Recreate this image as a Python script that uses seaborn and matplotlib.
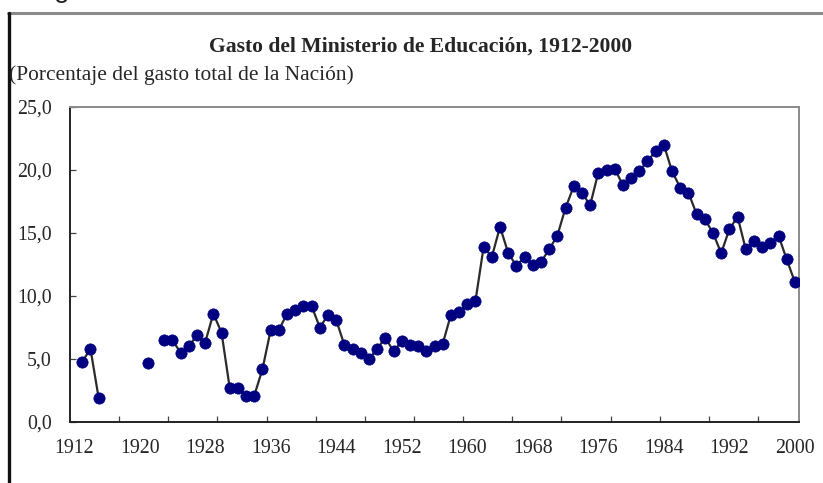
import matplotlib
matplotlib.use("Agg")
import numpy as np
import pandas as pd
import matplotlib.pyplot as plt
import seaborn as sns
from matplotlib.lines import Line2D
from matplotlib.ticker import FuncFormatter

# Gasto del Ministerio de Educación (% del gasto total)
years = [1913, 1914, 1915, 1921] + list(range(1923, 2001))
values = [
    4.8, 5.8, 1.9, 4.7,
    6.5, 6.5, 5.5, 6.0, 6.9, 6.3, 8.6, 7.1,          # 1923-1930
    2.7, 2.7, 2.1, 2.1, 4.2, 7.3, 7.3, 8.6, 8.9, 9.2,  # 1931-1940
    9.2, 7.5, 8.5, 8.1, 6.1, 5.8, 5.5, 5.0, 5.8, 6.7,  # 1941-1950
    5.6, 6.4, 6.1, 6.0, 5.6, 6.0, 6.2, 8.5, 8.7, 9.4,  # 1951-1960
    9.6, 13.9, 13.1, 15.5, 13.4, 12.4, 13.1, 12.5, 12.7, 13.7,  # 1961-1970
    14.8, 17.0, 18.7, 18.2, 17.2, 19.8, 20.0, 20.1, 18.8, 19.4,  # 1971-1980
    19.9, 20.7, 21.5, 22.0, 19.9, 18.6, 18.2, 16.5, 16.1, 15.0,  # 1981-1990
    13.4, 15.3, 16.3, 13.7, 14.4, 13.9, 14.2, 14.8, 12.9, 11.1,  # 1991-2000
]
label_years = [1912, 1920, 1928, 1936, 1944, 1952, 1960, 1968, 1976, 1984, 1992, 2000]
y_ticks = [0, 5, 10, 15, 20, 25]

title = "Gasto del Ministerio de Educación, 1912-2000"
subtitle = "(Porcentaje del gasto total de la Nación)"

df = pd.DataFrame({"year": years, "value": values})
# years without data break the line into separate pieces
df["seg"] = (df["year"].diff() != 1).cumsum()

sns.set_style("white")
plt.rcParams["font.family"] = ["Liberation Serif", "DejaVu Serif"]

fig = plt.figure(figsize=(8.23, 4.83), dpi=100)
ax = fig.add_axes([70 / 823, 1 - 422 / 483, 729 / 823, 315 / 483])

sns.lineplot(data=df, x="year", y="value", units="seg", estimator=None,
             color="#2b2b2b", linewidth=1.6, ax=ax, legend=False)
sns.scatterplot(data=df, x="year", y="value", color="#000080", edgecolor="#000080",
                s=66, linewidth=0.5, ax=ax, legend=False, zorder=3)

ax.set_xlim(1911.5, 2000.5)
ax.set_ylim(0, 25)
ax.set_xlabel("")
ax.set_ylabel("")

ax.set_xticks(label_years)
ax.set_xticks(np.arange(1917.5, 2000, 6), minor=True)
ax.set_yticks(y_ticks)
ax.yaxis.set_major_formatter(FuncFormatter(lambda v, p: f"{v:.1f}".replace(".", ",")))
ax.tick_params(axis="x", which="major", length=0, pad=12, labelsize=14.3)
ax.tick_params(axis="x", which="minor", direction="in", length=4, width=0.9, color="#444444")
ax.tick_params(axis="y", which="major", direction="in", length=4, width=0.9, color="#444444",
               pad=13, labelsize=14.3)
ax.tick_params(axis="y", left=True)
ax.tick_params(axis="x", bottom=True, which="both")

for side in ["left", "bottom"]:
    ax.spines[side].set_color("#222222")
    ax.spines[side].set_linewidth(1.4)
for side in ["top", "right"]:
    ax.spines[side].set_color("#8a8a8a")
    ax.spines[side].set_linewidth(1.4)

fig.text(421 / 823, 1 - 47 / 483, title, ha="center", va="center",
         fontsize=15.6, fontweight="bold")
fig.text(9 / 823, 1 - 75 / 483, subtitle, ha="left", va="center", fontsize=15.4)

# outer frame of the original figure (cut off at the edges)
fig.add_artist(Line2D([8 / 823, 1.0], [1 - 13 / 483, 1 - 13 / 483],
                      transform=fig.transFigure, color="#8a8a8a", linewidth=2.2))
fig.add_artist(Line2D([9 / 823, 9 / 823], [0.0, 1 - 13 / 483],
                      transform=fig.transFigure, color="#111111", linewidth=2.4))
fig.text(32 / 823, 1 + 3 / 483, "Figura", ha="left", va="baseline", fontsize=20,
         family=["Liberation Sans", "DejaVu Sans"])

fig.savefig("out.png", dpi=100)
